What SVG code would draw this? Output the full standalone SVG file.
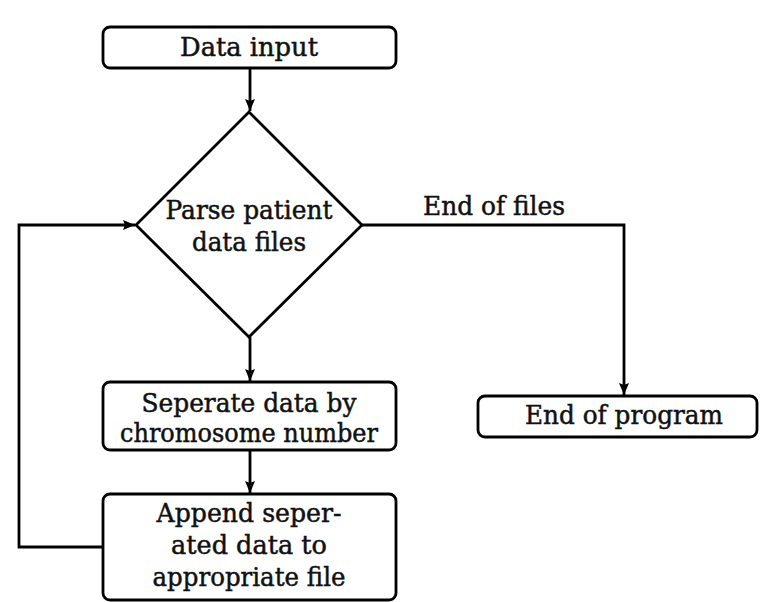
<svg xmlns="http://www.w3.org/2000/svg" width="762" height="602" viewBox="0 0 762 602">
<style>
.box{fill:#fff;stroke:#000;stroke-width:2.8}
.ln{fill:none;stroke:#000;stroke-width:2.8}
text{font-family:"DejaVu Serif","Liberation Serif",serif;font-size:26px;fill:#111;stroke:#111;stroke-width:0.5;text-anchor:middle}
</style>
<defs>
<marker id="ah" viewBox="0 0 12 10" refX="12" refY="5" markerWidth="12" markerHeight="10" markerUnits="userSpaceOnUse" orient="auto">
<path d="M0,0 L12,5 L0,10 L2,5 Z" fill="#000"/>
</marker>
</defs>
<rect width="762" height="602" fill="#fff"/>
<g id="connectors">
<line class="ln" x1="250" y1="68" x2="250" y2="111" marker-end="url(#ah)"/>
<line class="ln" x1="250" y1="337" x2="250" y2="381" marker-end="url(#ah)"/>
<line class="ln" x1="250" y1="450" x2="250" y2="493" marker-end="url(#ah)"/>
<polyline class="ln" points="362,225 624,225 624,395" marker-end="url(#ah)"/>
<polyline class="ln" points="103,547 19,547 19,225 135,225" marker-end="url(#ah)"/>
<text x="494" y="215" textLength="142" lengthAdjust="spacingAndGlyphs">End of files</text>
</g>
<g id="data-input">
<rect class="box" x="103" y="27" width="293" height="41" rx="7"/>
<text x="249" y="56" textLength="138" lengthAdjust="spacingAndGlyphs">Data input</text>
</g>
<g id="parse">
<polygon class="box" points="249,112 362,225 249,337 136,225"/>
<text x="249" y="219" textLength="167" lengthAdjust="spacingAndGlyphs">Parse patient</text>
<text x="249" y="251" textLength="114" lengthAdjust="spacingAndGlyphs">data files</text>
</g>
<g id="separate">
<rect class="box" x="103" y="382" width="293" height="68" rx="7"/>
<text x="249" y="412" textLength="215" lengthAdjust="spacingAndGlyphs">Seperate data by</text>
<text x="249" y="442" textLength="258" lengthAdjust="spacingAndGlyphs">chromosome number</text>
</g>
<g id="append">
<rect class="box" x="103" y="494" width="293" height="106" rx="7"/>
<text x="249" y="522" textLength="185" lengthAdjust="spacingAndGlyphs">Append seper-</text>
<text x="249" y="554" textLength="156" lengthAdjust="spacingAndGlyphs">ated data to</text>
<text x="249" y="586" textLength="193" lengthAdjust="spacingAndGlyphs">appropriate file</text>
</g>
<g id="end-program">
<rect class="box" x="478" y="396" width="279" height="41" rx="7"/>
<text x="624" y="424" textLength="198" lengthAdjust="spacingAndGlyphs">End of program</text>
</g>
</svg>
